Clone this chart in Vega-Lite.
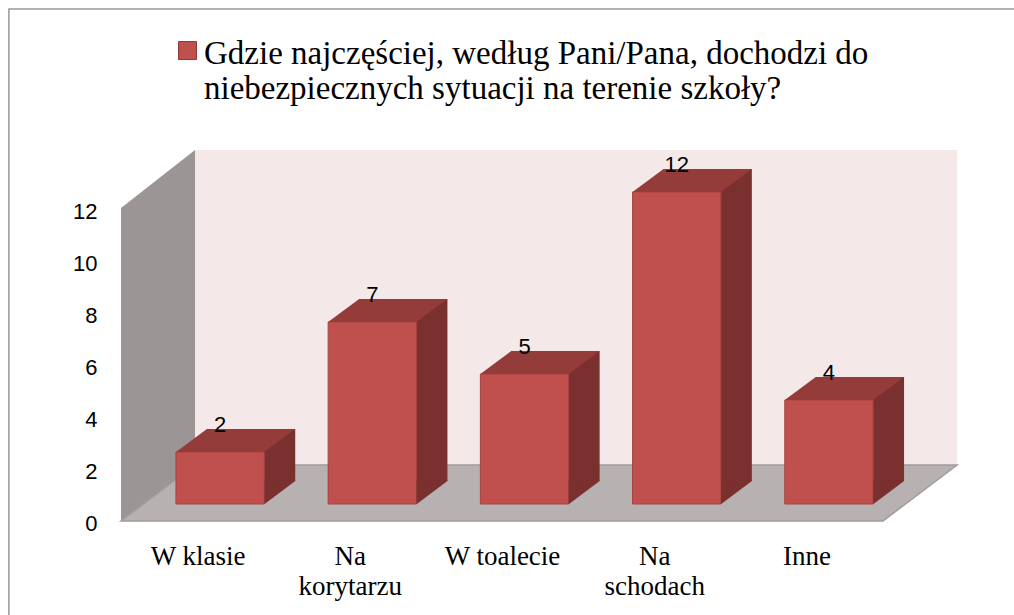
{
  "$schema": "https://vega.github.io/schema/vega-lite/v6.json",
  "width": 807,
  "height": 312,
  "autosize": {"type": "none"},
  "padding": {"left": 121, "top": 192, "right": 86, "bottom": 111},
  "background": "white",
  "config": {"view": {"stroke": null}},
  "data": {
    "values": [
      {"miejsce": "W klasie", "liczba": 2},
      {"miejsce": "Na korytarzu", "liczba": 7},
      {"miejsce": "W toalecie", "liczba": 5},
      {"miejsce": "Na schodach", "liczba": 12},
      {"miejsce": "Inne", "liczba": 4}
    ]
  },
  "encoding": {
    "x": {
      "field": "miejsce",
      "type": "nominal",
      "sort": ["W klasie", "Na korytarzu", "W toalecie", "Na schodach", "Inne"],
      "scale": {"paddingInner": 0.42, "paddingOuter": 0.361},
      "axis": {
        "title": null,
        "domain": false,
        "ticks": false,
        "labelAngle": 0,
        "labelPadding": 39,
        "labelOffset": -22,
        "labelFont": "Liberation Serif",
        "labelFontSize": 27,
        "labelColor": "#000000",
        "labelLineHeight": 30,
        "labelBaseline": "top",
        "labelLimit": 400,
        "labelExpr": "datum.value == 'Na korytarzu' ? ['Na', 'korytarzu'] : datum.value == 'Na schodach' ? ['Na', 'schodach'] : datum.value"
      }
    },
    "y": {
      "field": "liczba",
      "type": "quantitative",
      "scale": {"domain": [0, 12], "nice": false},
      "axis": {
        "title": null,
        "values": [0, 2, 4, 6, 8, 10, 12],
        "domain": false,
        "ticks": false,
        "grid": false,
        "labelPadding": 24,
        "labelOffset": 19,
        "labelFont": "Liberation Sans",
        "labelFontSize": 22,
        "labelColor": "#000000"
      }
    }
  },
  "layer": [
    {
      "transform": [{"filter": "datum.miejsce == 'W toalecie'"}],
      "mark": {"type": "point", "shape": "M-0.5156,-0.495L0.5054,-0.495L0.5054,0.126L-0.5156,0.126Z", "size": 4000000, "filled": false, "stroke": "#999999", "strokeWidth": 1.5, "opacity": 1},
      "encoding": {"y": {"datum": 0, "type": "quantitative"}}
    },
    {
      "transform": [{"filter": "datum.miejsce == 'W toalecie'"}],
      "mark": {"type": "point", "shape": "M-0.659,-0.708L0.865,-0.708L0.865,-0.078L-0.659,-0.078Z", "size": 1000000, "filled": true, "fill": "#f4e8e8", "strokeWidth": 0, "opacity": 1},
      "encoding": {"y": {"datum": 0, "type": "quantitative"}}
    },
    {
      "transform": [{"filter": "datum.miejsce == 'W toalecie'"}],
      "mark": {"type": "point", "shape": "M-0.807,0.034L-0.807,-0.592L-0.659,-0.708L-0.659,-0.078Z", "size": 1000000, "filled": true, "fill": "#9c9595", "strokeWidth": 0, "opacity": 1},
      "encoding": {"y": {"datum": 0, "type": "quantitative"}}
    },
    {
      "transform": [{"filter": "datum.miejsce == 'W toalecie'"}],
      "mark": {"type": "point", "shape": "M-0.807,0.034L0.717,0.034L0.865,-0.078L-0.659,-0.078Z", "size": 1000000, "filled": true, "fill": "#b8b1b1", "stroke": "#a19b9b", "strokeWidth": 1.5, "opacity": 1},
      "encoding": {"y": {"datum": 0, "type": "quantitative"}}
    },
    {
      "mark": {"type": "bar", "color": "#7a302e", "xOffset": 31, "yOffset": -23, "y2Offset": -23},
      "encoding": {"y": {"field": "liczba", "type": "quantitative"}}
    },
    {
      "mark": {"type": "bar", "opacity": 1, "stroke": "#a8423f", "strokeWidth": 1},
      "encoding": {
        "y": {"field": "liczba", "type": "quantitative"},
        "color": {
          "datum": "seria",
          "type": "nominal",
          "scale": {"range": ["#c0504d"]},
          "legend": {
            "orient": "none",
            "legendX": 50,
            "legendY": -145,
            "title": null,
            "symbolType": "M-1,-2.44L1,-2.44L1,-0.44L-1,-0.44Z",
            "symbolSize": 324,
            "symbolStrokeColor": "#8c3836",
            "symbolStrokeWidth": 1,
            "symbolOpacity": 1,
            "labelFont": "Liberation Serif",
            "labelFontSize": 33,
            "labelColor": "#000000",
            "labelBaseline": "alphabetic",
            "labelOffset": 0,
            "labelLimit": 1000,
            "labelExpr": "['Gdzie najczęściej, według Pani/Pana, dochodzi do', 'niebezpiecznych sytuacji na terenie szkoły?']"
          }
        }
      }
    },
    {
      "mark": {"type": "point", "shape": "M-0.4415,0L0.4415,0L0.7515,-0.23L-0.1315,-0.23Z", "size": 40000, "filled": true, "fill": "#933c39", "strokeWidth": 0, "opacity": 1},
      "encoding": {"y": {"field": "liczba", "type": "quantitative"}}
    },
    {
      "mark": {"type": "point", "shape": "M0.442,0.003L0.442,-0.233L0.755,-0.233Z", "size": 40000, "filled": true, "fill": "#7a302e", "strokeWidth": 0, "opacity": 1},
      "encoding": {"y": {"datum": 0, "type": "quantitative"}}
    },
    {
      "mark": {"type": "text", "dy": -27, "baseline": "middle", "font": "Liberation Sans", "fontSize": 22, "color": "#000000"},
      "encoding": {"y": {"field": "liczba", "type": "quantitative"}, "text": {"field": "liczba", "type": "quantitative"}}
    }
  ]
}
